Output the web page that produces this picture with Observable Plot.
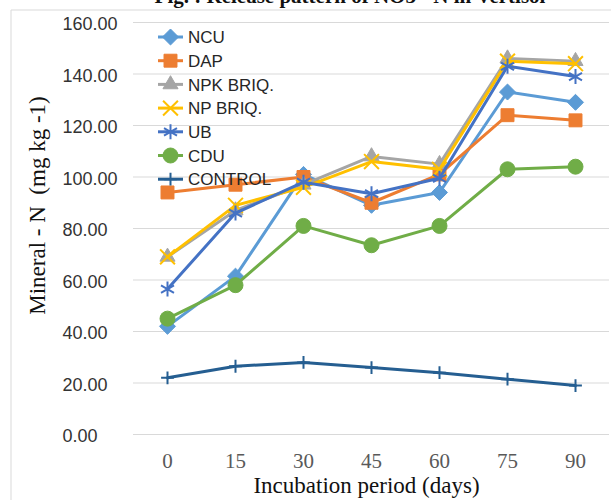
<!DOCTYPE html>
<html><head><meta charset="utf-8">
<script src="https://cdn.jsdelivr.net/npm/d3@7"></script>
<script src="https://cdn.jsdelivr.net/npm/@observablehq/plot@0.6"></script>
<style>
body{margin:0;background:#fff}
#wrap{position:relative;width:611px;height:500px;overflow:hidden;background:#fff}
#wrap svg{position:absolute;left:0;top:0}
</style>
</head><body><div id="wrap"></div>
<script>
// ---- data ----
const days = ["0", "15", "30", "45", "60", "75", "90"];
const seriesNames = ["NCU", "DAP", "NPK BRIQ.", "NP BRIQ.", "UB", "CDU", "CONTROL"];
const ncu     = [42, 61.5, 101, 89, 94, 133, 129];
const dap     = [94, 97, 100, 90, 101, 124, 122];
const npkBriq = [69, 87, 97, 108, 105, 146, 145];
const npBriq  = [69, 89, 96, 106, 103, 145, 144];
const ub      = [56.5, 86, 98, 93.5, 99.5, 143, 139];
const cdu     = [45, 58, 81, 73.5, 81, 103, 104];
const control = [22, 26.5, 28, 26, 24, 21.5, 19];
const yTicks  = [0, 20, 40, 60, 80, 100, 120, 140, 160];
const titleText = "Fig. : Release pattern of NO3 - N in Vertisol";
const xTitle = "Incubation period (days)";
const yTitle = "Mineral - N  (mg kg -1)";

const seriesValues = [ncu, dap, npkBriq, npBriq, ub, cdu, control];
const colors  = ["#5B9BD5", "#ED7D31", "#A5A5A5", "#FFC000", "#4472C4", "#70AD47", "#255E91"];
const symbols = ["diamond2", "square", "triangle", "times", "asterisk", "circle", "plus"];
const filled  = [true, true, true, false, false, true, false];
const radii   = [7.2, 7.3, 5.6, 6.8, 7.1, 7.5, 4.2];

const series = seriesNames.map((name, i) => ({
  name, color: colors[i], symbol: symbols[i], filled: filled[i], r: radii[i],
  rows: seriesValues[i].map((v, j) => ({series: name, day: days[j], value: v}))
}));

const serif = "'Liberation Serif', 'Times New Roman', serif";
const sans = "'Liberation Sans', Arial, sans-serif";

const marks = [
  Plot.ruleY(yTicks, {stroke: "#d9d9d9", strokeWidth: 1}),
  Plot.axisY(yTicks, {
    tickSize: 0, tickPadding: 71, textAnchor: "start", dy: 2,
    tickFormat: d3.format(".2f"), fontSize: 18, fontFamily: sans,
    fill: "#333", stroke: "#d9d9d9", line: true, label: null
  }),
  Plot.axisX({
    tickSize: 0, tickPadding: 19, fontSize: 21, fontFamily: serif,
    fill: "#595959", label: null
  }),
  Plot.text([xTitle], {frameAnchor: "bottom", dy: 58, fontSize: 23, fontFamily: serif, fill: "#111", dx: -5}),
  Plot.text([yTitle], {frameAnchor: "left", textAnchor: "middle", lineAnchor: "middle", rotate: -90,
    dx: -96, dy: -23, fontSize: 23, fontFamily: serif, fill: "#111"})
];
for (const s of series) {
  marks.push(Plot.line(s.rows, {x: "day", y: "value", stroke: "series", strokeWidth: 3}));
  marks.push(Plot.dot(s.rows, {
    x: "day", y: "value", symbol: () => s.symbol, r: s.r,
    fill: s.filled ? "series" : "none", stroke: "series",
    strokeWidth: s.filled ? 1 : 2
  }));
}

const chart = Plot.plot({
  width: 611, height: 500,
  marginLeft: 133, marginRight: 2, marginTop: 22, marginBottom: 66,
  x: {type: "point", domain: days, padding: 0.5},
  y: {domain: [0, 160]},
  color: {domain: seriesNames, range: colors},
  symbol: {type: "identity"},
  style: {background: "transparent", overflow: "visible"},
  marks
});
document.getElementById("wrap").appendChild(chart);

// overlay: frame lines, cropped title, legend
const ov = d3.select("#wrap").append("svg").attr("width", 611).attr("height", 500)
  .style("pointer-events", "none");
ov.append("line").attr("x1", 11).attr("x2", 11).attr("y1", 10).attr("y2", 500).attr("stroke", "#d9d9d9");
ov.append("line").attr("x1", 11).attr("x2", 611).attr("y1", 10).attr("y2", 10).attr("stroke", "#d9d9d9");
ov.append("text").attr("x", 350).attr("y", 3).attr("text-anchor", "middle")
  .attr("font-family", serif).attr("font-weight", "bold").attr("font-size", 21).attr("fill", "#111")
  .text(titleText);

const symMap = {diamond2: d3.symbolDiamond2, square: d3.symbolSquare, triangle: d3.symbolTriangle,
  times: d3.symbolTimes, asterisk: d3.symbolAsterisk, circle: d3.symbolCircle, plus: d3.symbolPlus};
series.forEach((s, i) => {
  const y = 37 + i * 23.7;
  const g = ov.append("g");
  g.append("line").attr("x1", 158).attr("x2", 183).attr("y1", y).attr("y2", y)
    .attr("stroke", s.color).attr("stroke-width", 3);
  g.append("path").attr("transform", `translate(170.5,${y})`)
    .attr("d", d3.symbol(symMap[s.symbol], Math.PI * s.r * s.r)())
    .attr("fill", s.filled ? s.color : "none").attr("stroke", s.color)
    .attr("stroke-width", s.filled ? 1 : 2);
  g.append("text").attr("x", 188).attr("y", y).attr("dy", "0.36em")
    .attr("font-family", sans).attr("font-size", 17).attr("fill", "#262626").text(s.name);
});
</script></body></html>
